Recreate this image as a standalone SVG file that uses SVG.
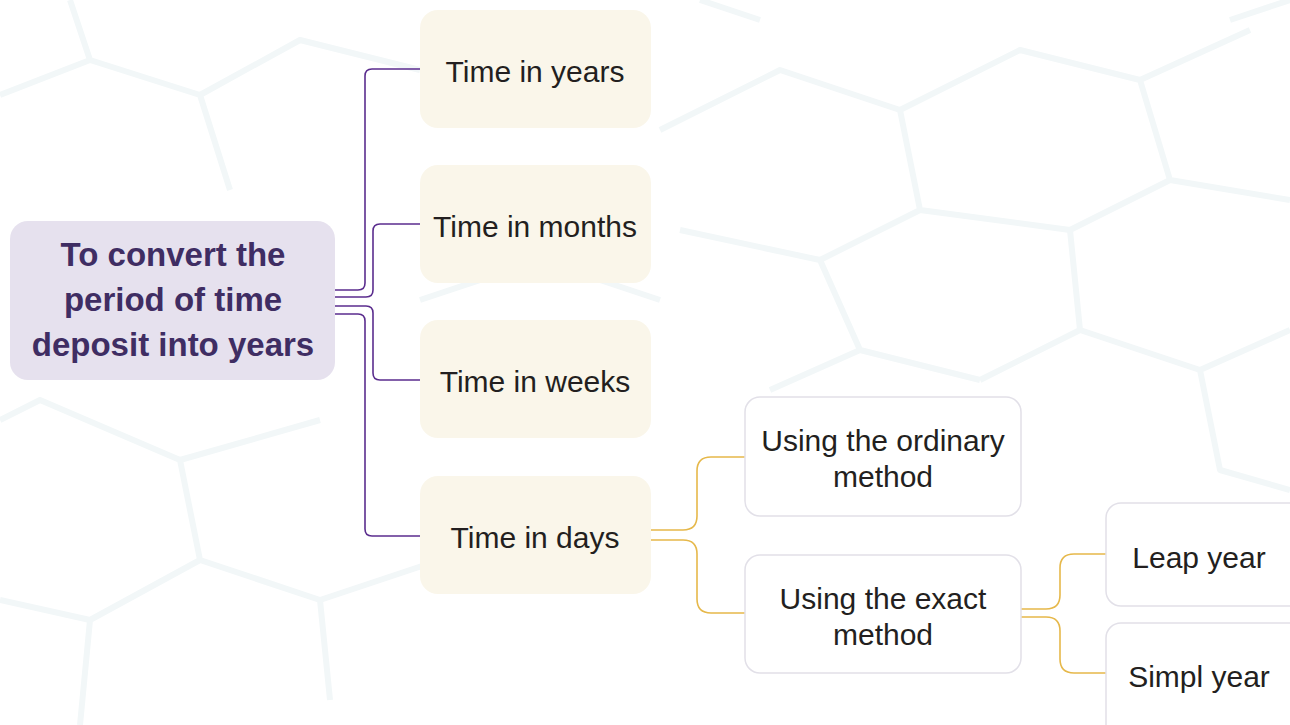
<svg xmlns="http://www.w3.org/2000/svg" width="1290" height="725" viewBox="0 0 1290 725">
<defs>
<style>
.bg{fill:none;stroke:#f2f7f8;stroke-width:6;stroke-linejoin:round}
.root{fill:#e6e1ee}
.rt{font-family:"Liberation Sans",Arial,sans-serif;font-weight:bold;font-size:33px;fill:#3f2d63;text-anchor:middle}
.l1{fill:#faf6ea}
.l2{fill:#ffffff;stroke:#e2e0e8;stroke-width:1.5}
.t{font-family:"Liberation Sans",Arial,sans-serif;font-size:30px;fill:#231f20;text-anchor:middle}
.pc{fill:none;stroke:#5b2d8e;stroke-width:1.6}
.gc{fill:none;stroke:#e6b84a;stroke-width:1.6}
</style>
</defs>
<rect width="1290" height="725" fill="#ffffff"/>
<g id="background">
<path class="bg" d="M0,95 L90,60 L200,95 L230,190 M200,95 L300,40 L420,70 M90,60 L70,0 M0,420 L40,400 L180,460 L200,560 L90,620 L0,600 M180,460 L320,420 M200,560 L320,600 L330,700 M90,620 L80,725 M320,600 L440,560 M420,300 L540,260 L660,300 M660,130 L780,70 L900,110 L920,210 L820,260 L680,230 M900,110 L1020,50 L1140,80 L1170,180 L1070,230 L920,210 M1140,80 L1250,30 M1170,180 L1290,200 M1070,230 L1080,330 L980,380 M1080,330 L1200,370 L1290,330 M980,380 L860,350 L820,260 M1200,370 L1220,470 L1290,490 M700,0 L760,20 M860,350 L770,390 M1230,20 L1290,0"/>
</g>
<g id="connectors">
<path class="pc" d="M335,290 H358 Q365,290 365,283 V76 Q365,69 372,69 H420"/>
<path class="pc" d="M335,297 H366 Q373,297 373,290 V231 Q373,224 380,224 H420"/>
<path class="pc" d="M335,306 H366 Q373,306 373,313 V373 Q373,380 380,380 H420"/>
<path class="pc" d="M335,314 H358 Q365,314 365,321 V529 Q365,536 372,536 H420"/>
<path class="gc" d="M651,530 H683 Q697,530 697,516 V471 Q697,457 711,457 H745"/>
<path class="gc" d="M651,540 H683 Q697,540 697,554 V599 Q697,613 711,613 H745"/>
<path class="gc" d="M1021,609 H1046 Q1060,609 1060,595 V568 Q1060,554 1074,554 H1106"/>
<path class="gc" d="M1021,617 H1046 Q1060,617 1060,631 V659 Q1060,673 1074,673 H1106"/>
</g>
<g id="root">
<rect class="root" x="10" y="221" width="325" height="159" rx="18"/>
<text class="rt" x="173" y="266">To convert the</text>
<text class="rt" x="173" y="311">period of time</text>
<text class="rt" x="173" y="356">deposit into years</text>
</g>
<g id="years">
<rect class="l1" x="420" y="10" width="231" height="118" rx="18"/>
<text class="t" x="535" y="82">Time in years</text>
</g>
<g id="months">
<rect class="l1" x="420" y="165" width="231" height="118" rx="18"/>
<text class="t" x="535" y="237">Time in months</text>
</g>
<g id="weeks">
<rect class="l1" x="420" y="320" width="231" height="118" rx="18"/>
<text class="t" x="535" y="392">Time in weeks</text>
</g>
<g id="days">
<rect class="l1" x="420" y="476" width="231" height="118" rx="18"/>
<text class="t" x="535" y="548">Time in days</text>
</g>
<g id="ordinary">
<rect class="l2" x="745" y="397" width="276" height="119" rx="15"/>
<text class="t" x="883" y="451">Using the ordinary</text>
<text class="t" x="883" y="487">method</text>
</g>
<g id="exact">
<rect class="l2" x="745" y="555" width="276" height="118" rx="15"/>
<text class="t" x="883" y="609">Using the exact</text>
<text class="t" x="883" y="645">method</text>
</g>
<g id="leap">
<rect class="l2" x="1106" y="503" width="200" height="103" rx="15"/>
<text class="t" x="1199" y="568">Leap year</text>
</g>
<g id="simpl">
<rect class="l2" x="1106" y="623" width="200" height="130" rx="15"/>
<text class="t" x="1199" y="687">Simpl year</text>
</g>
</svg>
